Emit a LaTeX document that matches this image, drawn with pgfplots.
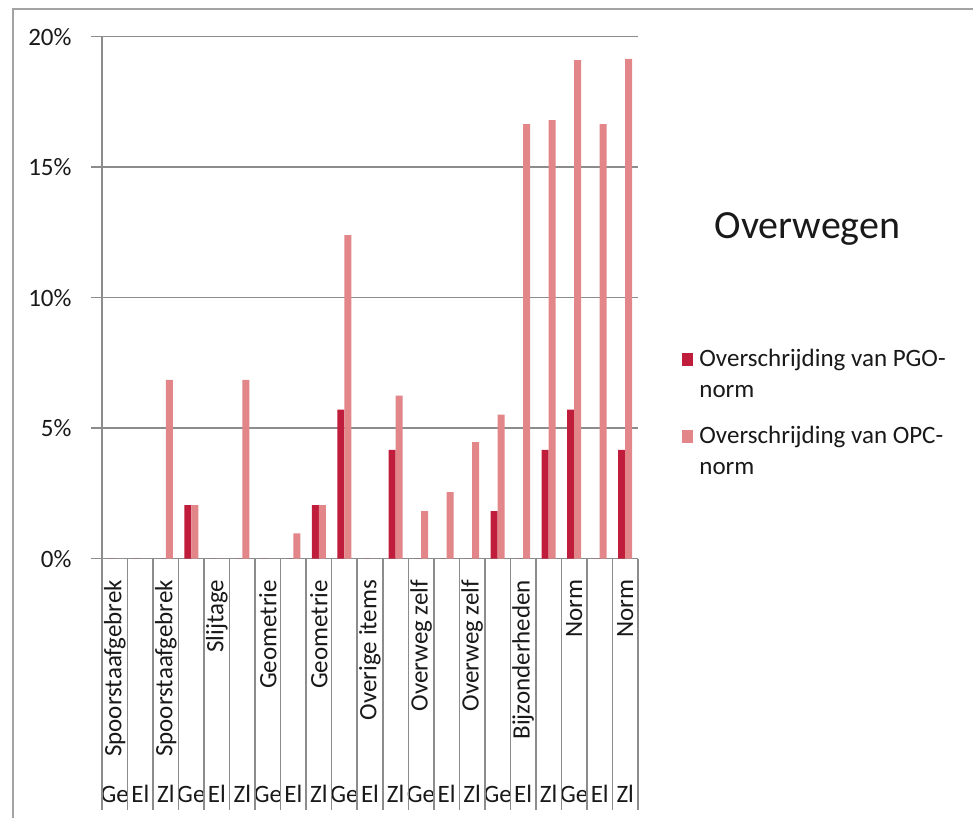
\documentclass[border=0pt]{standalone}
\usepackage{pgfplots}
\pgfplotsset{compat=1.18}
\usepackage{fontspec}
\setmainfont{Carlito}

\definecolor{pgo}{RGB}{192,28,60}
\definecolor{opc}{RGB}{226,134,138}
\definecolor{rule}{RGB}{140,140,140}
\definecolor{txt}{RGB}{25,25,25}

\begin{document}
\begin{tikzpicture}[x=1pt, y=1pt, font=\fontsize{25}{30}\selectfont, text=txt]
\useasboundingbox (0,0) rectangle (973,-818);
\draw[rule!80, line width=2pt] (13,-818) -- (13,-9) -- (973,-9);

\begin{axis}[
    at={(102pt,-558.7pt)}, anchor=south west,
    scale only axis, width=536pt, height=522pt,
    xmin=-0.5, xmax=20.5, ymin=0, ymax=20,
    axis x line*=bottom, axis y line*=left,
    axis line style={rule, line width=1.5pt, -},
    ymajorgrids, grid style={rule, line width=1.5pt},
    ytick={0,5,...,20},
    yticklabels={0\%,5\%,10\%,15\%,20\%},
    yticklabel style={xshift=-16pt},
    ytick align=outside, xtick align=inside,
    major tick length=11pt,
    tick style={rule, line width=1.5pt},
    xtick={0,...,20},
    xtick style={draw=none},
    xticklabels={Ge,El,Zl,Ge,El,Zl,Ge,El,Zl,Ge,El,Zl,Ge,El,Zl,Ge,El,Zl,Ge,El,Zl},
    xticklabel style={anchor=base, yshift=-233pt, inner sep=0pt},
    extra x ticks={0,2,...,20},
    extra x tick labels={Spoorstaafgebrek,Spoorstaafgebrek,Slijtage,Geometrie,Geometrie,Overige items,Overweg zelf,Overweg zelf,Bijzonderheden,Norm,Norm},
    extra x tick style={xticklabel style={yshift=223pt, rotate=90, anchor=east, inner sep=0pt}},
    ybar=0pt, bar width=7pt,
    clip=false,
    legend style={at={(rel axis cs:1.0825,0.405)}, anchor=north west, draw=none, fill=none,
        inner sep=0pt, row sep=23pt, cells={anchor=west, align=left},
        /tikz/every odd column/.append style={column sep=4pt},
        font=\fontsize{25}{31}\selectfont},
    legend image code/.code={\fill[#1] (0pt,8pt) rectangle (11pt,21pt);},
]
\addplot[draw=none, fill=pgo] coordinates {
    (0,0) (1,0) (2,0) (3,2.05) (4,0) (5,0) (6,0) (7,0) (8,2.05) (9,5.71)
    (10,0) (11,4.17) (12,0) (13,0) (14,0) (15,1.82) (16,0) (17,4.17)
    (18,5.71) (19,0) (20,4.17)};
\addplot[draw=none, fill=opc] coordinates {
    (0,0) (1,0) (2,6.85) (3,2.05) (4,0) (5,6.85) (6,0) (7,0.97) (8,2.05) (9,12.4)
    (10,0) (11,6.25) (12,1.82) (13,2.55) (14,4.47) (15,5.52) (16,16.65) (17,16.8)
    (18,19.1) (19,16.65) (20,19.15)};
\legend{Overschrijding van PGO-\\norm, Overschrijding van OPC-\\norm}
\pgfplotsinvokeforeach{-0.5,0.5,...,20.5}{
    \draw[rule, line width=1.5pt] (axis cs:#1,0) -- ([yshift=-251pt]axis cs:#1,0);
}
\end{axis}

\node[anchor=base west, font=\fontsize{40}{48}\selectfont] at (711,-238) {Overwegen};
\end{tikzpicture}
\end{document}
